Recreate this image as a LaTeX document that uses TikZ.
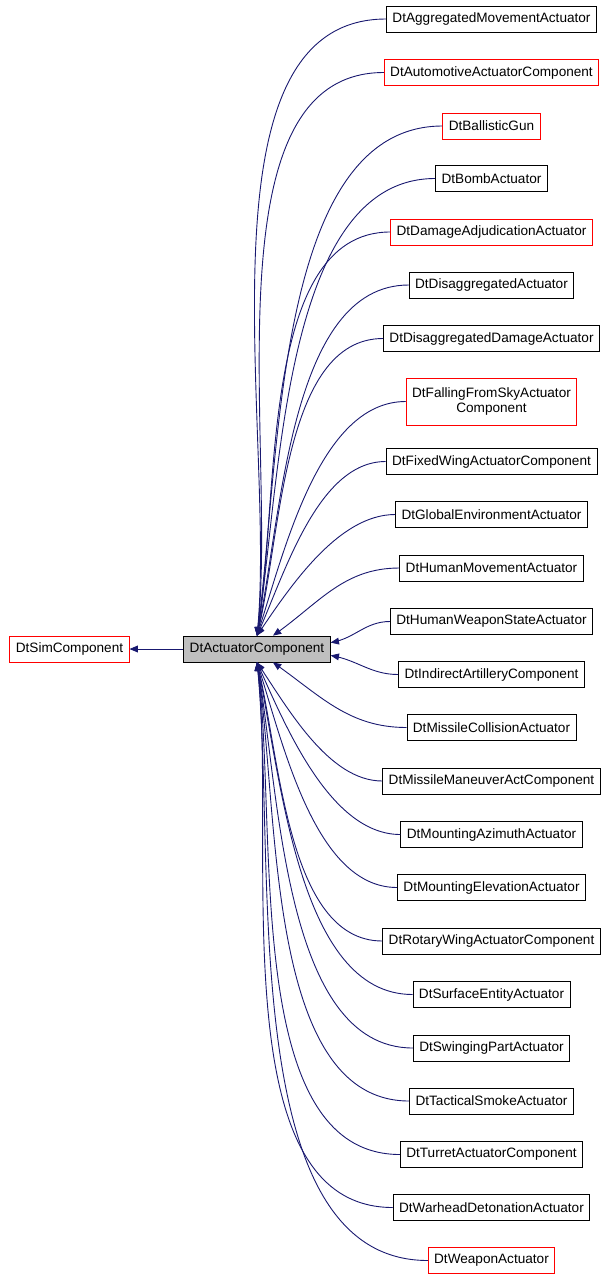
\documentclass[tikz,border=0pt]{standalone}
\usepackage{fontspec}
\setmainfont{Liberation Sans}
\usetikzlibrary{arrows}
\definecolor{navy}{HTML}{191970}
\definecolor{gr}{HTML}{BFBFBF}

\begin{document}
\begin{tikzpicture}[
      x = 1pt, y = -1pt,
      > = triangle 45, % arrow head style
      every node/.style = {font = \fontsize{13.6}{15.5}\selectfont},
      semithick, % line style
    ]

    \tikzstyle{cls}=[
      draw = black,
      line width = 0.8pt,
      fill = white,
      inner xsep = 6pt,
      minimum height = 26pt,
      align = center
    ]
    \tikzstyle{inh}=[<-, draw = navy, line width = 0.9pt]

    \useasboundingbox (0, 0) rectangle (608, 1283);

    \node[cls, draw = red] (sim) [at={(69.5, 649)}] {DtSimComponent};
    \node[cls, fill = gr] (act) [at={(257, 649)}] {DtActuatorComponent};

    \node[cls] (c1) [at={(491.5, 19)}] {DtAggregatedMovementActuator};
    \node[cls, draw = red] (c2) [at={(491.5, 72.5)}] {DtAutomotiveActuatorComponent};
    \node[cls, draw = red] (c3) [at={(491.5, 126)}] {DtBallisticGun};
    \node[cls] (c4) [at={(491.5, 178.5)}] {DtBombActuator};
    \node[cls, draw = red] (c5) [at={(491.5, 232)}] {DtDamageAdjudicationActuator};
    \node[cls] (c6) [at={(491.5, 285)}] {DtDisaggregatedActuator};
    \node[cls] (c7) [at={(491.5, 338.5)}] {DtDisaggregatedDamageActuator};
    \node[cls, draw = red, minimum height = 47pt] (c8) [at={(491.5, 401.5)}] {DtFallingFromSkyActuator\\Component};
    \node[cls] (c9) [at={(491.5, 461.5)}] {DtFixedWingActuatorComponent};
    \node[cls] (c10) [at={(491.5, 514.5)}] {DtGlobalEnvironmentActuator};
    \node[cls] (c11) [at={(491.5, 568)}] {DtHumanMovementActuator};
    \node[cls] (c12) [at={(491.5, 621.5)}] {DtHumanWeaponStateActuator};
    \node[cls] (c13) [at={(491.5, 674.5)}] {DtIndirectArtilleryComponent};
    \node[cls] (c14) [at={(491.5, 727.5)}] {DtMissileCollisionActuator};
    \node[cls] (c15) [at={(491.5, 781)}] {DtMissileManeuverActComponent};
    \node[cls] (c16) [at={(491.5, 834.5)}] {DtMountingAzimuthActuator};
    \node[cls] (c17) [at={(491.5, 887.5)}] {DtMountingElevationActuator};
    \node[cls] (c18) [at={(491.5, 941)}] {DtRotaryWingActuatorComponent};
    \node[cls] (c19) [at={(491.5, 994.5)}] {DtSurfaceEntityActuator};
    \node[cls] (c20) [at={(491.5, 1048)}] {DtSwingingPartActuator};
    \node[cls] (c21) [at={(491.5, 1101)}] {DtTacticalSmokeActuator};
    \node[cls] (c22) [at={(491.5, 1154.5)}] {DtTurretActuatorComponent};
    \node[cls] (c23) [at={(491.5, 1207.5)}] {DtWarheadDetonationActuator};
    \node[cls, draw = red] (c24) [at={(491.5, 1260.5)}] {DtWeaponActuator};

    \draw[inh] (sim) -- (act);

    \draw[inh] (act.north) to[out=84, in=180, looseness=0.8] (c1.west);
    \draw[inh] (act.north) to[out=83, in=180, looseness=0.8] (c2.west);
    \draw[inh] (act.north) to[out=82, in=180, looseness=0.8] (c3.west);
    \draw[inh] (act.north) to[out=81, in=180, looseness=0.8] (c4.west);
    \draw[inh] (act.north) to[out=80, in=180, looseness=0.8] (c5.west);
    \draw[inh] (act.north) to[out=78, in=180, looseness=0.8] (c6.west);
    \draw[inh] (act.north) to[out=76, in=180, looseness=0.8] (c7.west);
    \draw[inh] (act.north) to[out=72, in=180, looseness=0.8] (c8.west);
    \draw[inh] (act.north) to[out=66, in=180, looseness=0.8] (c9.west);
    \draw[inh] (act.north) to[out=56, in=180, looseness=0.8] (c10.west);
    \draw[inh] (act.40) to[out=35, in=180] (c11.west);
    \draw[inh] (act.5) to[out=10, in=180] (c12.west);
    \draw[inh] (act.-5) to[out=-10, in=180] (c13.west);
    \draw[inh] (act.-40) to[out=-35, in=180] (c14.west);
    \draw[inh] (act.south) to[out=-56, in=180, looseness=0.8] (c15.west);
    \draw[inh] (act.south) to[out=-66, in=180, looseness=0.8] (c16.west);
    \draw[inh] (act.south) to[out=-72, in=180, looseness=0.8] (c17.west);
    \draw[inh] (act.south) to[out=-76, in=180, looseness=0.8] (c18.west);
    \draw[inh] (act.south) to[out=-78, in=180, looseness=0.8] (c19.west);
    \draw[inh] (act.south) to[out=-80, in=180, looseness=0.8] (c20.west);
    \draw[inh] (act.south) to[out=-81, in=180, looseness=0.8] (c21.west);
    \draw[inh] (act.south) to[out=-82, in=180, looseness=0.8] (c22.west);
    \draw[inh] (act.south) to[out=-83, in=180, looseness=0.8] (c23.west);
    \draw[inh] (act.south) to[out=-84, in=180, looseness=0.8] (c24.west);

  \end{tikzpicture}
\end{document}
